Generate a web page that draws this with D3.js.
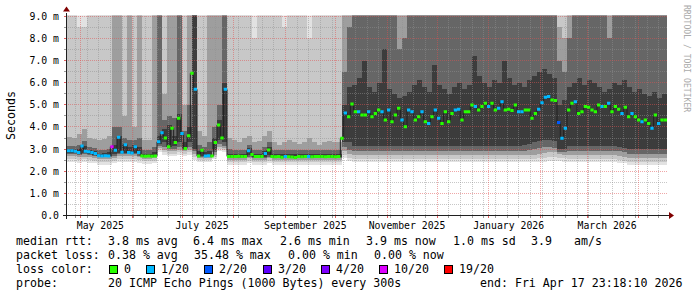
<!DOCTYPE html>
<html><head><meta charset="utf-8">
<script src="https://cdn.jsdelivr.net/npm/d3@7"></script>
<style>
html,body{margin:0;padding:0;background:#fff;}
svg{display:block;}
text{font-family:"DejaVu Sans Mono",monospace;}
</style></head><body>
<svg id="chart" width="697" height="297"></svg>
<script>
// ================= DATA =================
const endTime = new Date(2026, 3, 17, 23, 18, 10);
const spanDays = 360;
const medianStepDays = 2;
const smokeStepDays = 3;

const medianMs = [
2.92,2.93,2.90,2.84,3.14,2.90,2.88,2.85,2.80,2.70,
2.69,2.70,2.69,3.10,2.95,3.53,2.86,3.20,2.84,2.82,
3.10,2.85,2.69,2.68,2.69,2.68,2.69,3.33,3.74,3.50,
3.10,3.94,3.30,4.39,3.70,3.03,3.60,6.42,5.70,2.69,
2.95,2.69,2.70,2.69,3.30,4.09,3.50,5.70,2.67,2.66,
2.67,2.68,2.66,2.67,2.93,2.75,2.67,2.66,2.67,2.80,
2.96,2.66,2.65,2.66,2.63,2.67,2.65,2.64,2.62,2.66,
2.65,2.67,2.66,2.65,2.66,2.67,2.66,2.65,2.66,2.66,
2.65,2.66,3.49,4.63,4.46,5.04,4.69,4.69,4.54,4.54,
4.69,4.46,4.61,4.77,4.69,4.31,4.77,4.23,4.54,4.84,
4.31,4.01,4.77,4.69,4.31,4.46,4.69,4.23,4.16,4.46,
4.77,4.39,4.16,4.69,4.23,4.61,4.77,4.80,4.31,4.69,
4.69,4.99,4.92,4.77,4.92,5.07,4.92,5.07,4.77,4.84,
5.14,4.77,4.80,4.74,4.99,4.69,4.69,4.77,4.77,4.39,
4.61,4.80,5.09,5.34,5.37,5.22,5.19,4.20,3.49,3.94,
4.77,5.07,5.14,4.61,4.69,4.92,4.89,4.77,4.69,4.99,
4.92,4.92,5.07,4.69,4.92,4.80,4.61,4.89,4.46,4.61,
4.46,4.31,4.23,4.31,4.16,3.94,4.54,4.16,4.31,4.31];

const medianLoss = [
1,1,1,1,1,1,1,1,1,1,
1,1,1,10,1,1,1,1,1,1,
1,1,0,0,0,0,0,1,1,0,
0,0,0,0,1,0,0,0,1,0,
0,1,1,0,0,0,0,1,0,0,
0,0,0,0,1,0,0,0,0,1,
0,0,0,0,0,1,0,0,0,0,
0,0,1,0,0,0,0,0,0,0,
0,0,0,1,0,0,0,1,0,0,
1,0,0,0,1,0,1,0,0,0,
1,0,1,1,0,0,1,0,1,0,
1,1,0,0,0,0,1,1,0,0,
0,0,1,0,0,0,1,0,0,1,
1,0,0,0,0,1,1,0,0,0,
0,1,1,1,1,0,0,2,1,1,
0,0,1,0,0,0,0,0,0,0,
1,0,1,0,0,0,1,0,0,1,
0,0,1,0,0,1,0,1,0,0];

// smoke: sorted-ping quantile levels per 3-day bucket (ms); values above the chart top are clipped
const smokeLo1 = [
2.40,2.40,2.38,2.40,2.38,2.35,2.30,2.30,2.30,2.35,
2.40,2.40,2.40,2.40,2.38,2.32,2.32,2.35,2.85,2.75,
2.70,2.70,2.75,2.70,2.75,2.50,2.40,2.40,2.40,2.55,
2.90,2.85,2.30,2.30,2.30,2.30,2.35,2.30,2.30,2.30,
2.35,2.30,2.30,2.30,2.30,2.30,2.30,2.30,2.30,2.30,
2.30,2.30,2.30,2.30,2.30,2.60,2.45,2.40,2.40,2.40,
2.40,2.40,2.40,2.40,2.40,2.40,2.40,2.40,2.40,2.40,
2.40,2.40,2.40,2.40,2.40,2.40,2.40,2.40,2.40,2.40,
2.40,2.40,2.40,2.40,2.40,2.40,2.40,2.40,2.40,2.40,
2.40,2.40,2.40,2.40,2.40,2.42,2.45,2.45,2.45,2.42,
2.40,2.40,2.40,2.40,2.40,2.40,2.40,2.40,2.40,2.40,
2.38,2.35,2.28,2.28,2.28,2.28,2.28,2.28,2.28,2.28];
const smokeLo2 = [
2.55,2.55,2.52,2.55,2.52,2.48,2.42,2.42,2.42,2.48,
2.55,2.55,2.55,2.55,2.52,2.45,2.45,2.48,2.95,2.85,
2.80,2.80,2.85,2.80,2.85,2.65,2.50,2.50,2.50,2.65,
3.00,2.95,2.42,2.42,2.42,2.42,2.48,2.42,2.42,2.42,
2.48,2.42,2.42,2.42,2.42,2.42,2.42,2.42,2.42,2.42,
2.42,2.42,2.42,2.42,2.42,2.75,2.60,2.55,2.55,2.55,
2.55,2.55,2.55,2.55,2.55,2.55,2.55,2.55,2.55,2.55,
2.55,2.55,2.55,2.55,2.55,2.55,2.55,2.55,2.55,2.55,
2.55,2.55,2.55,2.55,2.55,2.55,2.55,2.55,2.55,2.55,
2.55,2.55,2.55,2.55,2.58,2.60,2.62,2.62,2.60,2.58,
2.55,2.55,2.55,2.55,2.55,2.55,2.55,2.55,2.55,2.55,
2.52,2.48,2.42,2.42,2.42,2.42,2.42,2.42,2.42,2.42];
const smokeLo3 = [
2.68,2.68,2.65,2.66,2.65,2.60,2.55,2.55,2.55,2.60,
2.68,2.68,2.68,2.68,2.62,2.56,2.56,2.60,3.05,2.95,
2.90,2.90,2.95,2.90,2.95,2.80,2.60,2.60,2.60,2.75,
3.10,3.05,2.52,2.52,2.52,2.52,2.58,2.52,2.52,2.52,
2.58,2.52,2.52,2.52,2.52,2.52,2.52,2.52,2.52,2.52,
2.52,2.52,2.52,2.52,2.52,2.90,2.78,2.72,2.72,2.72,
2.72,2.72,2.72,2.72,2.72,2.72,2.72,2.72,2.72,2.72,
2.72,2.72,2.72,2.72,2.72,2.72,2.72,2.72,2.72,2.72,
2.72,2.72,2.72,2.72,2.72,2.72,2.72,2.72,2.72,2.72,
2.72,2.72,2.72,2.75,2.78,2.82,2.85,2.85,2.78,2.75,
2.72,2.72,2.72,2.72,2.72,2.72,2.72,2.72,2.72,2.72,
2.70,2.66,2.60,2.60,2.60,2.60,2.60,2.60,2.60,2.60];
const smokeLo4 = [
2.78,2.78,2.75,2.76,2.74,2.70,2.63,2.63,2.63,2.70,
2.78,2.78,2.78,2.78,2.70,2.63,2.63,2.66,3.15,3.10,
3.00,3.00,3.10,2.95,3.10,2.90,2.65,2.65,2.65,2.85,
3.25,3.15,2.60,2.60,2.60,2.60,2.66,2.60,2.60,2.60,
2.66,2.60,2.60,2.60,2.60,2.60,2.60,2.60,2.60,2.60,
2.60,2.60,2.60,2.60,2.60,3.10,2.98,2.92,2.92,2.92,
2.92,2.92,2.92,2.92,2.92,2.92,2.92,2.92,2.92,2.92,
2.92,2.92,2.92,2.92,2.92,2.92,2.92,2.92,2.92,2.92,
2.92,2.92,2.92,2.92,2.92,2.92,2.92,2.92,2.92,2.92,
2.92,2.92,2.95,3.00,3.05,3.10,3.10,3.05,2.88,2.88,
2.92,2.92,2.92,2.92,2.92,2.92,2.92,2.92,2.92,2.92,
2.90,2.86,2.80,2.80,2.80,2.80,2.80,2.80,2.80,2.80];
const smokeLo5 = [
2.84,2.84,2.80,2.82,2.80,2.75,2.67,2.67,2.67,2.78,
2.84,2.84,2.84,2.84,2.76,2.67,2.67,2.68,3.25,3.30,
3.10,3.15,3.30,3.00,3.30,3.00,2.68,2.68,2.68,2.95,
3.40,3.30,2.64,2.63,2.63,2.63,2.72,2.63,2.63,2.63,
2.72,2.63,2.63,2.63,2.63,2.63,2.63,2.63,2.63,2.63,
2.63,2.63,2.63,2.63,2.63,3.30,3.30,3.15,3.15,3.15,
3.15,3.15,3.15,3.15,3.15,3.15,3.15,3.15,3.15,3.15,
3.15,3.15,3.15,3.15,3.15,3.15,3.15,3.15,3.15,3.15,
3.15,3.15,3.15,3.15,3.15,3.15,3.15,3.15,3.15,3.15,
3.15,3.20,3.25,3.30,3.35,3.40,3.40,3.35,3.00,3.00,
3.15,3.15,3.15,3.15,3.15,3.15,3.15,3.15,3.15,3.15,
3.10,3.05,3.00,3.00,3.00,3.00,3.00,3.00,3.00,3.00];
const smokeHi5 = [
3.00,3.00,3.00,3.15,2.96,2.90,2.80,2.82,2.85,3.20,
3.60,3.25,3.10,3.20,3.10,2.80,2.80,2.85,3.60,3.90,
4.10,3.60,4.60,3.30,4.00,10,2.90,2.85,2.90,3.50,
4.30,6.00,2.80,2.78,2.78,2.78,3.05,2.78,2.78,2.90,
3.10,2.78,2.78,2.78,2.78,2.78,2.78,2.78,2.78,2.78,
2.78,2.78,2.78,2.78,2.78,5.00,5.80,5.90,6.20,7.00,
5.80,5.60,6.00,7.50,5.70,5.50,5.30,5.40,5.60,5.90,
6.10,5.80,5.60,6.80,5.90,5.70,5.50,5.80,6.00,5.70,
5.90,7.20,6.30,6.00,5.80,6.10,6.00,7.00,6.20,5.90,
6.00,5.80,6.10,6.30,6.50,6.60,6.40,6.20,5.00,5.20,
5.80,6.00,6.20,5.90,6.10,6.00,5.80,5.60,5.70,6.00,
5.90,6.10,5.80,5.60,5.70,5.50,5.40,5.60,5.30,5.50];
const smokeHi4 = [
3.15,3.12,3.20,3.35,3.10,3.05,2.95,2.98,3.00,4.00,
4.00,3.50,3.40,3.40,3.50,2.95,2.95,3.10,10,4.30,
4.50,4.40,10,3.80,5.00,10,3.20,3.10,3.30,4.00,
5.00,10,3.00,2.95,2.95,2.95,3.20,2.95,2.95,3.10,
3.30,2.95,2.95,2.95,2.95,2.95,2.95,2.95,2.95,2.95,
2.95,2.95,2.95,2.95,2.95,6.50,8.50,10,10,10,
10,10,10,10,10,10,7.50,8.00,10,10,
10,10,10,10,10,10,10,10,10,10,
10,10,10,10,10,10,10,10,10,10,
10,10,10,10,10,10,10,10,7.00,6.50,
8.00,10,10,10,10,10,10,10,8.00,10,
10,10,10,10,10,10,10,10,10,10];
const smokeHi3 = [
3.55,3.50,3.70,3.90,3.50,3.45,3.40,3.45,3.60,10,
10,4.50,10,4.00,10,3.40,3.40,10,10,5.50,
10,10,10,5.00,10,10,3.80,3.60,10,10,
10,10,3.50,3.40,3.30,3.50,3.60,3.30,3.35,3.60,
3.80,3.30,3.20,3.30,3.40,3.30,3.25,3.30,3.50,3.30,
3.20,3.30,3.35,3.30,3.30,10,10,10,10,10,
10,10,10,10,10,10,10,10,10,10,
10,10,10,10,10,10,10,10,10,10,
10,10,10,10,10,10,10,10,10,10,
10,10,10,10,10,10,10,10,8.50,8.00,
10,10,10,10,10,10,10,10,10,10,
10,10,10,10,10,10,10,10,10,10];
const smokeHi2 = [
10,10,8.50,8.50,10,10,10,10,10,10,
10,10,10,10,10,10,10,10,10,10,
10,10,10,10,10,10,10,10,10,10,
10,10,10,10,10,10,10,8.00,10,10,
10,10,10,8.50,10,10,10,10,8.00,10,
10,10,10,10,10,10,10,10,10,10,
10,10,10,10,10,10,10,10,10,10,
10,10,10,10,10,10,10,10,10,10,
10,10,10,10,10,10,10,10,10,10,
10,10,10,10,10,10,10,10,10,10,
10,10,10,10,10,10,10,10,10,10,
10,10,10,10,10,10,10,10,10,10];
const smokeHi1 = [
10,10,10,10,10,10,10,10,10,10,
10,10,10,10,10,10,10,10,10,10,
10,10,10,10,10,10,10,10,10,10,
10,10,10,10,10,10,10,10,10,10,
10,10,10,10,10,10,10,10,10,10,
10,10,10,10,10,10,10,10,10,10,
10,10,10,10,10,10,10,10,10,10,
10,10,10,10,10,10,10,10,10,10,
10,10,10,10,10,10,10,10,10,10,
10,10,10,10,10,10,10,10,10,10,
10,10,10,10,10,10,10,10,10,10,
10,10,10,10,10,10,10,10,10,10];

const yTickValues = [0,1,2,3,4,5,6,7,8,9];
const yTickLabels = ["0.0","1.0 m","2.0 m","3.0 m","4.0 m","5.0 m","6.0 m","7.0 m","8.0 m","9.0 m"];
const xLabelMonths = [[2025,4],[2025,6],[2025,8],[2025,10],[2026,0],[2026,2]];
const xLabelTexts = ["May 2025","July 2025","September 2025","November 2025","January 2026","March 2026"];

const lossKeys = [0,1,2,3,4,10,19];
const lossLabels = ["0","1/20","2/20","3/20","4/20","10/20","19/20"];
const lossColors = ["#26ff00","#00b8ff","#0059ff","#5e00ff","#7e00ff","#dd00ff","#ff0000"];

const legendRtt = ["median rtt:","3.8 ms avg","6.4 ms max","2.6 ms min","3.9 ms now","1.0 ms sd","3.9","am/s"];
const legendLoss = ["packet loss:","0.38 % avg","35.48 % max","0.00 % min","0.00 % now"];
const legendProbe = ["probe:","20 ICMP Echo Pings (1000 Bytes) every 300s","end: Fri Apr 17 23:18:10 2026"];

// ================= LAYOUT / STYLE =================
const PX0 = 67, PX1 = 667, PY0 = 215.5, PY1 = 15.5;
const yTop = 9.033;
const smokeShades = ["#e2e2e2","#c8c8c8","#9e9e9e","#666666","#3c3c3c"];
const legendFont = 11.6, axisFont = 9.8;

const svg = d3.select("#chart");
svg.append("rect").attr("width",697).attr("height",297).attr("fill","#ffffff");

const DAY = 864e5;
const start = new Date(endTime.getTime() - spanDays*DAY);
const x = d3.scaleTime().domain([start, endTime]).range([PX0, PX1]);
const y = d3.scaleLinear().domain([0, yTop]).range([PY0, PY1]);

const defs = svg.append("defs");
defs.append("clipPath").attr("id","plotclip").append("rect")
  .attr("x",PX0).attr("y",PY1).attr("width",PX1-PX0).attr("height",PY0-PY1);

// ---- smoke ----
const smokeG = svg.append("g").attr("clip-path","url(#plotclip)").attr("shape-rendering","crispEdges");
const los = [smokeLo1,smokeLo2,smokeLo3,smokeLo4,smokeLo5];
const his = [smokeHi1,smokeHi2,smokeHi3,smokeHi4,smokeHi5];
const smokeIdx = d3.range(smokeLo1.length);
const tS = k => new Date(start.getTime() + k*smokeStepDays*DAY);
for (let b = 0; b < 5; b++) {
  smokeG.append("g").selectAll("rect").data(smokeIdx).join("rect")
    .attr("x", k => Math.round(x(tS(k))))
    .attr("width", k => Math.round(x(tS(k+1))) - Math.round(x(tS(k))))
    .attr("y", k => Math.round(y(Math.min(his[b][k], yTop+0.5))))
    .attr("height", k => Math.max(0, Math.round(y(los[b][k])) - Math.round(y(Math.min(his[b][k], yTop+0.5)))))
    .attr("fill", smokeShades[b]);
}

// ---- grid (pixel dotted lines) ----
const gridG = svg.append("g").attr("shape-rendering","crispEdges");
const minorCol = "rgba(144,144,144,0.5)", majorCol = "rgba(224,80,80,0.5)";
const VY1 = 16, VY0 = 215;
function hDots(py){ let s=""; for(let xx=PX0+1; xx<PX1; xx+=2) s+=`M${xx},${py}h1v1h-1z`; return s; }
function vDots(px){ let s=""; for(let yy=VY1; yy<VY0; yy+=2) s+=`M${px},${yy}h1v1h-1z`; return s; }
const yMinor = d3.range(0.5, 9.01, 1);
const yMajor = d3.range(1, 9.01, 1);
const months = d3.timeMonth.range(start, endTime);
const weeks = d3.timeMonday.range(start, endTime).filter(w => w.getDate() !== 1);
gridG.append("path").attr("d", yMinor.map(d=>hDots(Math.floor(y(d)))).join("")).attr("fill",minorCol);
gridG.append("path").attr("d", weeks.map(d=>vDots(Math.floor(x(d)))).join("")).attr("fill",minorCol);
gridG.append("path").attr("d", yMajor.map(d=>hDots(Math.floor(y(d)))).join("")).attr("fill",majorCol);
gridG.append("path").attr("d", months.map(d=>vDots(Math.floor(x(d)))).join("")).attr("fill",majorCol);
// ticks outside the axes
gridG.append("g").selectAll("rect").data(yTickValues.concat(yMinor)).join("rect")
  .attr("x",PX0-3).attr("width",3).attr("y",d=>Math.floor(y(d))).attr("height",1)
  .attr("fill",d=>Number.isInteger(d)?"rgba(224,80,80,0.9)":"rgba(144,144,144,0.9)");
gridG.append("g").selectAll("rect").data(weeks.concat(months)).join("rect")
  .attr("x",d=>Math.floor(x(d))).attr("width",1).attr("y",216).attr("height",2)
  .attr("fill",d=>d.getDate()===1?"rgba(224,80,80,0.9)":"rgba(144,144,144,0.9)");

// ---- median ----
const medG = svg.append("g").attr("clip-path","url(#plotclip)");
const tM = i => new Date(start.getTime() + i*medianStepDays*DAY);
const medIdx = d3.range(medianMs.length);
let dStep = "";
medIdx.forEach(i => {
  const x0 = x(tM(i)), x1 = x(tM(i+1)), yy = y(medianMs[i]);
  dStep += (i===0 ? "M"+x0+","+yy : "V"+yy) + "H"+x1;
});
medG.append("path").attr("d",dStep).attr("fill","none").attr("stroke","#202020").attr("stroke-width",1);
const colorOf = l => lossColors[lossKeys.indexOf(l)];
medG.selectAll("line.med").data(medIdx).join("line")
  .attr("x1",i=>x(tM(i))).attr("x2",i=>x(tM(i+1)))
  .attr("y1",i=>y(medianMs[i])).attr("y2",i=>y(medianMs[i]))
  .attr("stroke",i=>colorOf(medianLoss[i])).attr("stroke-width",3);

// ---- axes ----
const axG = svg.append("g").attr("shape-rendering","crispEdges");
axG.append("line").attr("x1",PX0-4).attr("x2",PX1+3).attr("y1",PY0).attr("y2",PY0).attr("stroke","#202020");
axG.append("line").attr("x1",PX0-0.5).attr("x2",PX0-0.5).attr("y1",PY0+3).attr("y2",PY1-3).attr("stroke","#202020");
svg.append("path").attr("d",`M${PX1+2},${PY0-3.5}L${PX1+7},${PY0}L${PX1+2},${PY0+3.5}Z`).attr("fill","#800000");
svg.append("path").attr("d",`M${PX0-4},${PY1-4}L${PX0-0.5},${PY1-9}L${PX0+3},${PY1-4}Z`).attr("fill","#800000");

// y labels
svg.append("g").selectAll("text").data(yTickValues).join("text")
  .attr("x",PX0-8).attr("y",d=>y(d)+3.5).attr("text-anchor","end")
  .attr("font-size",axisFont).attr("fill","#000").text((d,i)=>yTickLabels[i]);
// x labels
svg.append("g").selectAll("text").data(xLabelMonths).join("text")
  .attr("x",d=>x(new Date(d[0],d[1],13))).attr("y",228.5).attr("text-anchor","middle")
  .attr("font-size",axisFont).attr("fill","#000").text((d,i)=>xLabelTexts[i]);

// vertical unit label
svg.append("text").attr("transform",`translate(14.5,${(PY0+PY1)/2}) rotate(-90)`)
  .attr("text-anchor","middle").attr("font-size",legendFont).attr("fill","#000").text("Seconds");
// watermark
svg.append("text").attr("transform","translate(684,5) rotate(90)")
  .attr("font-size",8.1).attr("fill","#aaaaaa").text("RRDTOOL / TOBI OETIKER");

// ---- legend ----
const lg = svg.append("g").attr("font-size",legendFont).attr("fill","#000").attr("xml:space","preserve");
const rttX = [16,108,193,280,366,453,531,574];
legendRtt.forEach((t,i)=> lg.append("text").attr("x",rttX[i]).attr("y",245).text(t));
const lossX = [16,108,194,288,374];
legendLoss.forEach((t,i)=> lg.append("text").attr("x",lossX[i]).attr("y",259).text(t));
lg.append("text").attr("x",16).attr("y",273).text("loss color:");
const boxX = [109,146,204,263,321,379,444];
lossLabels.forEach((t,i)=>{
  lg.append("rect").attr("x",boxX[i]+0.5).attr("y",265.5).attr("width",8).attr("height",8)
    .attr("fill",lossColors[i]).attr("stroke","#000").attr("stroke-width",1);
  lg.append("text").attr("x",boxX[i]+15).attr("y",273).text(t);
});
const probeX = [16,108,480];
legendProbe.forEach((t,i)=> lg.append("text").attr("x",probeX[i]).attr("y",287).text(t));
</script>
</body></html>
